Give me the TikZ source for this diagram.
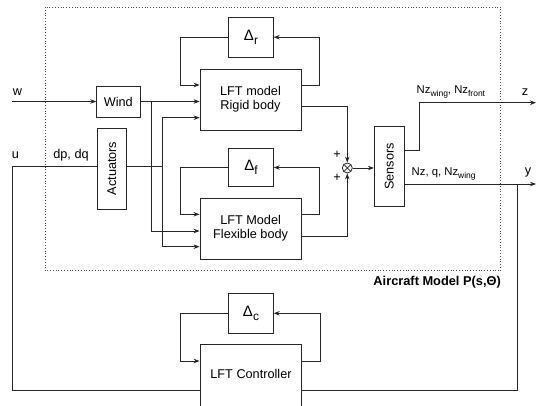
\documentclass[tikz,border=0pt]{standalone}
\usepackage{fontspec}
\setmainfont{Liberation Sans}
\usetikzlibrary{arrows.meta,calc}
\tikzset{
  box/.style={draw=black!85, line width=0.8pt, inner sep=1pt, align=center, font=\fontsize{12.7}{14}\selectfont},
  wire/.style={draw=black!85, line width=0.8pt},
  arr/.style={wire, -{Stealth[length=6pt,width=4.5pt]}},
  lbl/.style={inner sep=0pt, font=\fontsize{12.7}{14}\selectfont},
  slbl/.style={inner sep=0pt, font=\fontsize{11.3}{13}\selectfont},
}
\newcommand{\dlt}[1]{{\fontsize{15}{15}\selectfont Δ}\raisebox{-4.5pt}{\fontsize{12}{12}\selectfont #1}}
\newcommand{\sbs}[1]{\raisebox{-3pt}{\fontsize{8.5}{8.5}\selectfont #1}}
\begin{document}
\begin{tikzpicture}[x=1pt,y=-1pt]
\useasboundingbox (0,0) rectangle (536,405);
\clip (0,0) rectangle (536,405);
% dotted frame
\draw[black!70, line width=0.8pt, dotted] (45,7) rectangle (500.7,270.7);
\node[anchor=east, inner sep=0pt, font=\fontsize{12.8}{14}\selectfont\bfseries] (title) at (501,282) {Aircraft Model P(s,Θ)};
% boxes
\node[box, minimum width=43.3pt, minimum height=31pt] (wind) at (118.3,101.5) {Wind};
\node[box, minimum width=29.7pt, minimum height=81pt] (act) at (111.8,168.5) {};
\node[rotate=90, lbl] at (act.center) {Actuators};
\node[box, minimum width=101pt, minimum height=60.7pt] (rigid) at (250.5,99.7) {LFT model\\Rigid body};
\node[box, minimum width=44.6pt, minimum height=39.7pt] (dr) at (251,37.2) {\dlt{r}};
\node[box, minimum width=44.6pt, minimum height=38.4pt] (df) at (251,167.5) {\dlt{f}};
\node[box, minimum width=101.3pt, minimum height=60.7pt] (flex) at (250.6,228.7) {LFT Model\\Flexible body};
\node[box, minimum width=30pt, minimum height=79.3pt] (sens) at (389.3,166.3) {};
\node[rotate=90, lbl] at (sens.center) {Sensors};
\node[box, minimum width=44.6pt, minimum height=40pt] (dc) at (251,313.3) {\dlt{c}};
\node[box, minimum width=101.7pt, minimum height=70pt, anchor=north] (ctrl) at (250.8,344.3) {};
\node[lbl] (ctrltext) at (251,374) {LFT Controller};
% summing junction
\node[draw=black!85, line width=0.8pt, circle, minimum size=10pt, inner sep=0pt,
  path picture={\draw[black!85, line width=0.7pt] (path picture bounding box.south west) -- (path picture bounding box.north east)
  (path picture bounding box.north west) -- (path picture bounding box.south east);}] (sum) at (347.3,168) {};
\node[lbl] at (337,155) {+};
\node[lbl] at (337,178) {+};
% coordinates for free ends
\coordinate (win) at (12,101.5);
\coordinate (zout) at (536,102.7);
\coordinate (yout) at (536,184);
% labels
\node[lbl] at (17.5,92) {w};
\node[lbl] at (15.5,155) {u};
\node[lbl] at (71,155) {dp, dq};
\node[lbl] at (525,92) {z};
\node[lbl] at (528,172) {y};
\node[slbl, anchor=south west] at (416.5,98.5) {Nz\sbs{wing}, Nz\sbs{front}};
\node[slbl, anchor=south west] at (411.5,180) {Nz, q, Nz\sbs{wing}};
% input w
\draw[arr] (win) -- (wind.west);
% wind output
\draw[arr] (wind.east) -- (rigid.west |- wind.east);
\draw[arr] (151.7,101.5) |- (flex.west |- 0,231);
% actuators
\draw[wire] (act.west |- 0,166) -| (12.7,390.7) -- (ctrl.west |- 0,390.7);
\draw[wire] (act.east |- 0,166) -- (162.3,166);
\draw[arr] (162.3,166) |- (rigid.west |- 0,117.7);
\draw[arr] (162.3,166) |- (flex.west |- 0,246.7);
% delta r loop
\draw[arr] (dr.west) -| (180.7,85) -- (rigid.west |- 0,85);
\draw[arr] (rigid.east |- 0,85) -| (319.3,37.2) -- (dr.east);
% delta f loop
\draw[arr] (df.west) -| (180.7,214.3) -- (flex.west |- 0,214.3);
\draw[arr] (flex.east |- 0,214.3) -| (319.3,167.5) -- (df.east);
% outputs to sum
\draw[arr] (rigid.east |- 0,106.7) -| (sum.north);
\draw[arr] (flex.east |- 0,236) -| (sum.south);
\draw[arr] (sum.east) -- (sens.west |- sum.east);
% sensors outputs
\draw[arr] (sens.east |- 0,150) -| (419,102.7) -- (zout);
\draw[arr] (sens.east |- 0,184) -- (yout);
\draw[wire] (517.3,184) |- (ctrl.east |- 0,390.7);
% delta c loop
\draw[arr] (dc.west) -| (180.7,361) -- (ctrl.west |- 0,361);
\draw[arr] (ctrl.east |- 0,361) -| (320,313.3) -- (dc.east);
\end{tikzpicture}
\end{document}
